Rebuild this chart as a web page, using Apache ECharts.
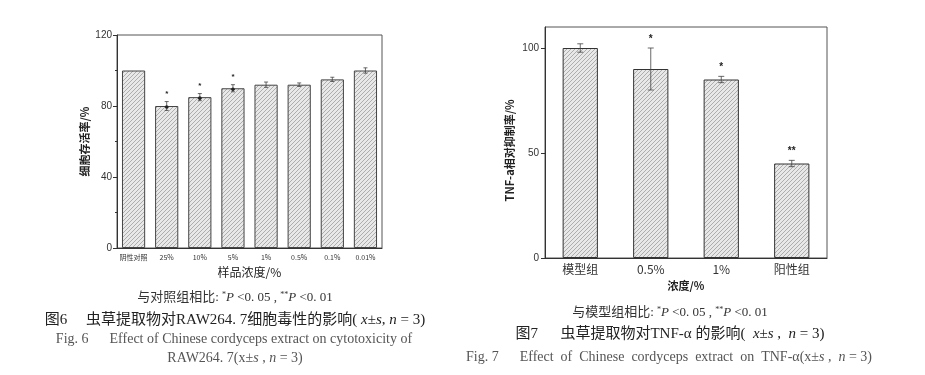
<!DOCTYPE html>
<html><head><meta charset="utf-8">
<script src="https://cdn.jsdelivr.net/npm/echarts@6/dist/echarts.min.js"></script>
<style>html,body{margin:0;padding:0;background:#fff}#c{width:925px;height:375px}</style>
</head><body><div id="c"></div>
<script>
const leftCats = ['阴性对照','25%','10%','5%','1%','0.5%','0.1%','0.01%'];
const leftValues = [100,80,85,90,92,92,95,100];
const leftErrors = [0,2.5,2,2,1.5,1,1.2,1.5];
const leftStars = ['','*','*','*','','','',''];
const leftTicks = [0,40,80,120];

const rightCats = ['模型组','0.5%','1%','阳性组'];
const rightValues = [100,90,85,45];
const rightErrors = [2,10,1.5,1.5];
const rightStars = ['','*','*','**'];
const rightTicks = [0,50,100];

function hatch(){
  const c=document.createElement('canvas'); c.width=4; c.height=4;
  const g=c.getContext('2d');
  g.fillStyle='#e8e8e8'; g.fillRect(0,0,4,4);
  g.strokeStyle='#a6a6a6'; g.lineWidth=0.9;
  g.beginPath();
  g.moveTo(-1,5); g.lineTo(5,-1);
  g.moveTo(-1,1); g.lineTo(1,-1);
  g.moveTo(3,5); g.lineTo(5,3);
  g.stroke();
  return {image:c, repeat:'repeat'};
}
const pat = hatch();
const CJK = '"Noto Sans CJK SC", "Liberation Sans", sans-serif';
const SERIF = '"Liberation Serif", "Noto Sans CJK SC", serif';

function errRender(stars, starSize, cap, dots){
  return function(params, api){
    const x=api.value(0), m=api.value(1), e=api.value(2);
    const ch=[];
    if(e>0){
      const t=api.coord([x,m+e]), b=api.coord([x,m-e]);
      const st={stroke:'#444', lineWidth:0.8};
      ch.push({type:'line', shape:{x1:t[0],y1:t[1],x2:b[0],y2:b[1]}, style:st});
      ch.push({type:'line', shape:{x1:t[0]-cap,y1:t[1],x2:t[0]+cap,y2:t[1]}, style:st});
      ch.push({type:'line', shape:{x1:b[0]-cap,y1:b[1],x2:b[0]+cap,y2:b[1]}, style:st});
    }
    const s=stars[params.dataIndex];
    if(s){
      const t=api.coord([x,m+e]);
      ch.push({type:'text', style:{text:s, x:t[0], y:t[1]-4, textAlign:'center', align:'center', textVerticalAlign:'bottom', verticalAlign:'bottom', font:'bold '+starSize+'px "Liberation Sans"', fill:'#222'}});
      if(dots){
        const p=api.coord([x,m]);
        ch.push({type:'circle', shape:{cx:p[0], cy:p[1]+1, r:1.8}, style:{fill:'#222'}});
      }
    }
    return {type:'group', children:ch};
  };
}

const chart = echarts.init(document.getElementById('c'), null, {renderer:'canvas'});
chart.setOption({
  animation:false,
  backgroundColor:'#fff',
  grid:[
    {left:117, top:35, width:265, height:213, show:true, borderColor:'#555', borderWidth:1},
    {left:545, top:27, width:282, height:231, show:true, borderColor:'#555', borderWidth:1}
  ],
  xAxis:[
    {type:'category', gridIndex:0, data:leftCats,
     axisLine:{lineStyle:{color:'#333', width:1}},
     axisTick:{alignWithLabel:true, length:3, lineStyle:{color:'#333'}},
     axisLabel:{fontSize:7, color:'#333', margin:6, interval:0, fontFamily:CJK},
     name:'样品浓度/%', nameLocation:'middle', nameGap:18,
     nameTextStyle:{fontSize:12, color:'#222', fontFamily:CJK}},
    {type:'category', gridIndex:1, data:rightCats,
     axisLine:{lineStyle:{color:'#333', width:1}},
     axisTick:{show:false},
     axisLabel:{fontSize:12, color:'#333', margin:5, interval:0, fontFamily:CJK},
     name:'浓度/%', nameLocation:'middle', nameGap:20,
     nameTextStyle:{fontSize:11, fontWeight:'bold', color:'#222', fontFamily:CJK}}
  ],
  yAxis:[
    {type:'value', gridIndex:0, min:0, max:120, interval:40,
     axisLine:{show:true, lineStyle:{color:'#333'}},
     axisTick:{show:true, length:4, lineStyle:{color:'#333'}},
     minorTick:{show:true, splitNumber:2, length:2, lineStyle:{color:'#333'}},
     splitLine:{show:false},
     axisLabel:{fontSize:10, color:'#333', margin:5, fontFamily:'"Liberation Sans"',
       customValues:leftTicks},
     name:'细胞存活率/%', nameLocation:'middle', nameGap:27,
     nameTextStyle:{fontSize:11, fontWeight:'bold', color:'#222', fontFamily:CJK}},
    {type:'value', gridIndex:1, min:0, max:110,
     axisLine:{show:true, lineStyle:{color:'#333'}},
     axisTick:{show:true, length:4, lineStyle:{color:'#333'}, customValues:rightTicks},
     splitLine:{show:false},
     axisLabel:{fontSize:10, color:'#333', margin:6, fontFamily:'"Liberation Sans"',
       customValues:rightTicks},
     name:'TNF-a相对抑制率/%', nameLocation:'middle', nameGap:30,
     nameTextStyle:{fontSize:11, fontWeight:'bold', color:'#222', fontFamily:CJK, padding:[0,16,0,0]}}
  ],
  series:[
    {type:'bar', xAxisIndex:0, yAxisIndex:0, data:leftValues, barWidth:'70%',
     itemStyle:{color:pat, borderColor:'#444', borderWidth:1}},
    {type:'custom', xAxisIndex:0, yAxisIndex:0, z:5,
     data:leftValues.map((v,i)=>[i,v,leftErrors[i]]),
     renderItem:errRender(leftStars, 8, 2, true)},
    {type:'bar', xAxisIndex:1, yAxisIndex:1, data:rightValues, barWidth:'50%',
     itemStyle:{color:pat, borderColor:'#333', borderWidth:1}},
    {type:'custom', xAxisIndex:1, yAxisIndex:1, z:5,
     data:rightValues.map((v,i)=>[i,v,rightErrors[i]]),
     renderItem:errRender(rightStars, 10, 3, false)}
  ],
  graphic:[
    {type:'text', style:{x:235, y:298, textAlign:'center', align:'center', textVerticalAlign:'middle', verticalAlign:'middle',
      text:'与对照组相比: {sup|*}{i|P} <0. 05 , {sup|**}{i|P} <0. 01', font:'13px '+SERIF, fill:'#333',
      rich:{sup:{fontSize:8, verticalAlign:'top', fontFamily:SERIF, padding:[0,0,6,0], fill:'#333'}, i:{fontStyle:'italic', fontSize:13, fontFamily:SERIF, fill:'#333'}}}},
    {type:'text', style:{x:235, y:320, textAlign:'center', align:'center', textVerticalAlign:'middle', verticalAlign:'middle',
      text:'图6　 虫草提取物对RAW264. 7细胞毒性的影响( {i|x}±{i|s}, {i|n} = 3)', font:'15px '+SERIF, fill:'#222',
      rich:{i:{fontStyle:'italic', fontSize:15, fontFamily:SERIF, fill:'#222'}}}},
    {type:'text', style:{x:234, y:339, textAlign:'center', align:'center', textVerticalAlign:'middle', verticalAlign:'middle',
      text:'Fig. 6　  Effect of Chinese cordyceps extract on cytotoxicity of', font:'14px '+SERIF, fill:'#555'}},
    {type:'text', style:{x:235, y:358, textAlign:'center', align:'center', textVerticalAlign:'middle', verticalAlign:'middle',
      text:'RAW264. 7(x±{i|s} , {i|n} = 3)', font:'14px '+SERIF, fill:'#555',
      rich:{i:{fontStyle:'italic', fontSize:14, fontFamily:SERIF, fill:'#555'}}}},
    {type:'text', style:{x:670, y:313, textAlign:'center', align:'center', textVerticalAlign:'middle', verticalAlign:'middle',
      text:'与模型组相比: {sup|*}{i|P} <0. 05 , {sup|**}{i|P} <0. 01', font:'13px '+SERIF, fill:'#333',
      rich:{sup:{fontSize:8, verticalAlign:'top', fontFamily:SERIF, padding:[0,0,6,0], fill:'#333'}, i:{fontStyle:'italic', fontSize:13, fontFamily:SERIF, fill:'#333'}}}},
    {type:'text', style:{x:670, y:334, textAlign:'center', align:'center', textVerticalAlign:'middle', verticalAlign:'middle',
      text:'图7　  虫草提取物对TNF-α 的影响(  {i|x}±{i|s} ,  {i|n} = 3)', font:'15px '+SERIF, fill:'#222',
      rich:{i:{fontStyle:'italic', fontSize:15, fontFamily:SERIF, fill:'#222'}}}},
    {type:'text', style:{x:669, y:357, textAlign:'center', align:'center', textVerticalAlign:'middle', verticalAlign:'middle',
      text:'Fig. 7　  Effect  of  Chinese  cordyceps  extract  on  TNF-α(x±{i|s} ,  {i|n} = 3)', font:'14px '+SERIF, fill:'#555',
      rich:{i:{fontStyle:'italic', fontSize:14, fontFamily:SERIF, fill:'#555'}}}}
  ]
});
</script></body></html>
